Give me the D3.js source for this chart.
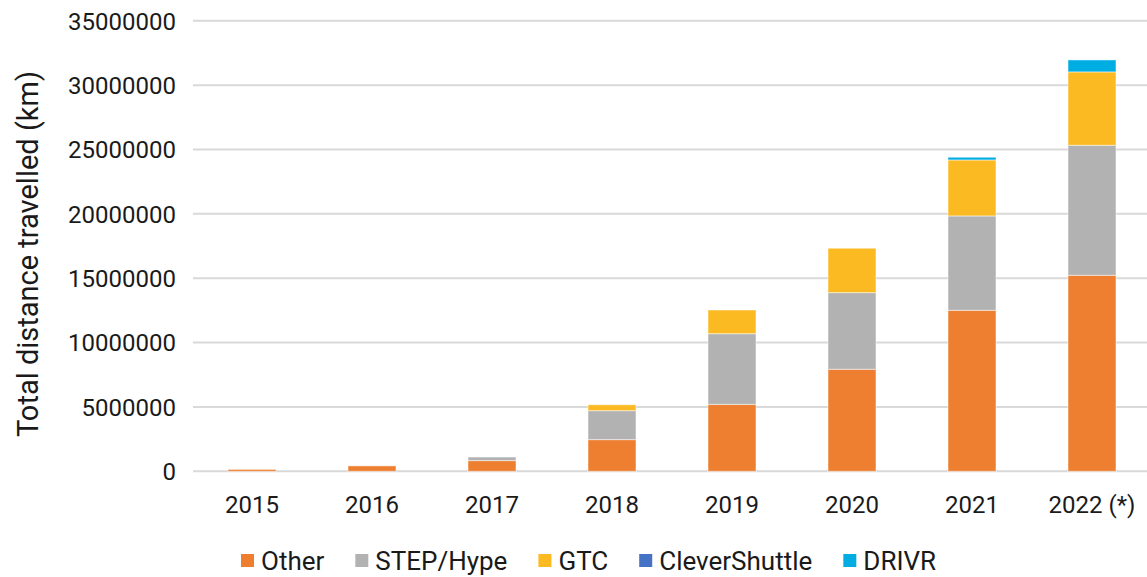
<!DOCTYPE html>
<html>
<head>
<meta charset="utf-8">
<script src="https://cdn.jsdelivr.net/npm/d3@7"></script>
<style>
  html, body { margin: 0; padding: 0; background: #fff; }
  svg { display: block; font-family: Roboto, "Liberation Sans", sans-serif; }
</style>
</head>
<body>
<svg id="chart" width="1147" height="577"></svg>
<script>
const years = ["2015", "2016", "2017", "2018", "2019", "2020", "2021", "2022 (*)"];
const seriesNames = ["Other", "STEP/Hype", "GTC", "CleverShuttle", "DRIVR"];
const otherVals   = [150000, 420000, 830000, 2460000, 5200000, 7930000, 12510000, 15230000];
const stepVals    = [0, 0, 280000, 2250000, 5490000, 5950000, 7330000, 10100000];
const gtcVals     = [0, 0, 0, 460000, 1840000, 3450000, 4350000, 5700000];
const cleverVals  = [0, 0, 0, 0, 0, 0, 0, 0];
const drivrVals   = [0, 0, 0, 0, 0, 0, 210000, 930000];
const yTicks = [0, 5000000, 10000000, 15000000, 20000000, 25000000, 30000000, 35000000];
const colors = ["#EE7F31", "#B2B2B2", "#FBBA22", "#4472C4", "#00ADE3"];

const seriesVals = [otherVals, stepVals, gtcVals, cleverVals, drivrVals];
const table = years.map((y, i) => {
  const row = { year: y };
  seriesNames.forEach((s, k) => row[s] = seriesVals[k][i]);
  return row;
});

const svg = d3.select("#chart");
const textColor = "#1a1a1a";

const x = d3.scaleBand().domain(years).range([192, 1152]).paddingInner(0.6).paddingOuter(0.3);
const y = d3.scaleLinear().domain([0, 35000000]).range([471.3, 20.8]);

// gridlines
svg.append("g").selectAll("line").data(yTicks).join("line")
  .attr("x1", 193).attr("x2", 1147)
  .attr("y1", d => y(d)).attr("y2", d => y(d))
  .attr("stroke", "#d9d9d9").attr("stroke-width", 2);

// y axis labels
const yAxis = d3.axisLeft(y).tickValues(yTicks).tickFormat(d3.format("d")).tickSize(0).tickPadding(0);
const gy = svg.append("g").attr("transform", "translate(176,0)").call(yAxis);
gy.select(".domain").remove();
gy.selectAll("text").attr("fill", textColor).style("font-size", "24px")
  .style("font-family", "Roboto, sans-serif").attr("dy", "0.35em");

// x axis labels
const xAxis = d3.axisBottom(x).tickSize(0).tickPadding(0);
const gx = svg.append("g").attr("transform", "translate(0,496)").call(xAxis);
gx.select(".domain").remove();
gx.selectAll("text").attr("fill", textColor).style("font-size", "24px")
  .style("font-family", "Roboto, sans-serif");

// stacked bars
const stack = d3.stack().keys(seriesNames);
const stacked = stack(table);
svg.append("g").selectAll("g").data(stacked).join("g")
  .attr("fill", (d, i) => colors[i])
  .selectAll("rect").data(d => d.filter(p => p[1] - p[0] > 0)).join("rect")
  .attr("x", d => x(d.data.year))
  .attr("width", x.bandwidth())
  .attr("y", d => y(d[1]))
  .attr("height", d => y(d[0]) - y(d[1]))
  .attr("stroke", "#fff").attr("stroke-opacity", 0.5).attr("stroke-width", 1);

// y axis title
svg.append("text")
  .attr("transform", "translate(28,254) rotate(-90)")
  .attr("text-anchor", "middle")
  .attr("dominant-baseline", "central")
  .attr("fill", textColor)
  .style("font-size", "29px")
  .text("Total distance travelled (km)");

// legend
const legend = svg.append("g").attr("transform", "translate(0,561)");
let lx = 241;
seriesNames.forEach((name, i) => {
  legend.append("rect").attr("x", lx).attr("y", -7).attr("width", 13).attr("height", 13).attr("fill", colors[i]);
  const t = legend.append("text").attr("x", lx + 20).attr("y", 0).attr("dy", "0.35em")
    .attr("fill", textColor).style("font-size", "26px").text(name);
  lx += 20 + t.node().getComputedTextLength() + 31;
});
</script>
</body>
</html>
